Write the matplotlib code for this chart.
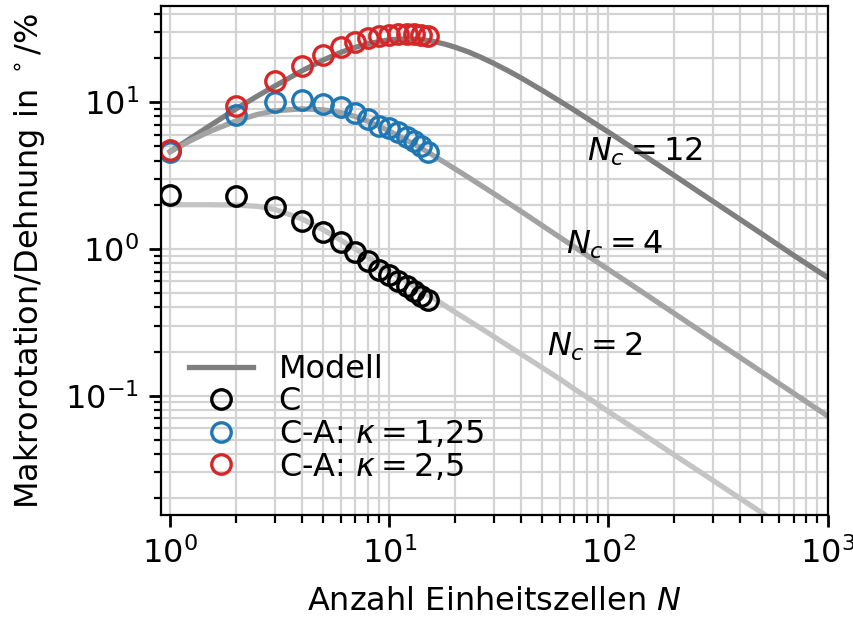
import numpy as np
import matplotlib
matplotlib.use('Agg')
import matplotlib.pyplot as plt

# Modellkurven
N_model = [1, 1.25, 1.5, 2, 2.5, 3, 4, 5, 6, 7, 8, 10, 12, 14, 16, 18, 20, 23,
           26, 30, 35, 40, 50, 60, 70, 85, 100, 150, 200, 300, 500, 700, 1000]
model_nc12 = [4.6, 5.72, 6.83, 9.0, 11.0, 12.85, 16.35, 19.35, 21.8, 23.6, 25.0,
              26.6, 27.0, 26.7, 25.85, 24.8, 23.65, 21.95, 20.3, 18.35, 16.3,
              14.6, 12.0, 10.15, 8.8, 7.3, 6.25, 4.2, 3.16, 2.11, 1.27, 0.905,
              0.64]
model_nc4 = [4.6, 5.5, 6.27, 7.45, 8.24, 8.72, 9.0, 8.85, 8.5, 7.97, 7.4, 6.35,
             5.5, 4.85, 4.3, 3.86, 3.5, 3.07, 2.73, 2.38, 2.05, 1.8, 1.44,
             1.2, 1.03, 0.85, 0.725, 0.484, 0.363, 0.242, 0.1455, 0.104, 0.0728]
model_nc2 = [2.0, 2.0, 2.0, 1.99, 1.95, 1.86, 1.6, 1.35, 1.15, 1.0, 0.88, 0.71,
             0.6, 0.52, 0.46, 0.41, 0.37, 0.325, 0.29, 0.253, 0.218, 0.192,
             0.155, 0.13, 0.111, 0.092, 0.078, 0.0525, 0.0395, 0.0265, 0.016,
             0.0114, 0.008]

# Messpunkte
N_data = list(range(1, 16))
data_c = [2.34, 2.28, 1.92, 1.54, 1.30, 1.12, 0.95, 0.83, 0.72, 0.66, 0.60,
          0.557, 0.515, 0.48, 0.452]
data_k125 = [4.55, 8.2, 9.94, 10.3, 9.74, 9.19, 8.42, 7.69, 6.9, 6.65, 6.25,
             5.83, 5.4, 4.99, 4.54]
data_k25 = [4.69, 9.4, 13.9, 17.7, 21.0, 23.9, 25.8, 27.2, 28.3, 28.8, 29.1,
            29.1, 28.9, 28.7, 28.3]

labels_nc = ['$N_c = 12$', '$N_c = 4$', '$N_c = 2$']
label_pos = [(80, 4.6), (64, 1.07), (52.5, 0.216)]

plt.rcParams['font.size'] = 11.5

fig = plt.figure(figsize=(4.27, 3.105), dpi=200)
ax = fig.add_axes([0.188, 0.170, 0.781, 0.820])

ax.plot(N_model, model_nc12, color='#7f7f7f', lw=1.9, label='Modell')
ax.plot(N_model, model_nc4, color='#a3a3a3', lw=1.9)
ax.plot(N_model, model_nc2, color='#c4c4c4', lw=1.9)

mk = dict(ls='none', marker='o', mfc='none', ms=7, mew=1.2)
ax.plot(N_data, data_c, mec='black', label='C', **mk)
ax.plot(N_data, data_k125, mec='#1f77b4', label=r'C-A: $\kappa = 1{,}25$', **mk)
ax.plot(N_data, data_k25, mec='#d62728', label=r'C-A: $\kappa = 2{,}5$', **mk)

for txt, (x, y) in zip(labels_nc, label_pos):
    ax.text(x, y, txt, ha='left', va='center')

ax.set_xscale('log')
ax.set_yscale('log')
ax.set_xlim(0.904, 1000)
ax.set_ylim(0.0153, 45)
ax.grid(True, which='both', color='#d3d3d3', lw=0.8)
ax.set_axisbelow(True)
ax.tick_params(which='major', length=4.3, width=1.0)
ax.tick_params(which='minor', length=2.7, width=0.8)

ax.set_xlabel('Anzahl Einheitszellen $N$', labelpad=6)
ax.set_ylabel(r'Makrorotation/Dehnung in $^\circ$/%', labelpad=6.5)

ax.legend(loc='lower left', frameon=False, handlelength=2.0, handletextpad=0.8,
          borderaxespad=0.5, labelspacing=0.05, bbox_to_anchor=(0.0, 0.008))

fig.savefig('out.png', dpi=200)
